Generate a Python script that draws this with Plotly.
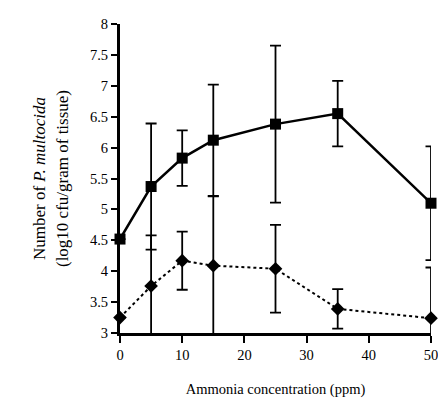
import plotly.graph_objects as go

ammonia = [0, 5, 10, 15, 25, 35, 50]
square_vals = [4.52, 5.37, 5.83, 6.12, 6.38, 6.55, 5.10]
square_err = [0.0, 1.02, 0.45, 0.90, 1.27, 0.53, 0.92]
diamond_vals = [3.25, 3.76, 4.17, 4.09, 4.04, 3.39, 3.24]
diamond_err = [0.0, 0.82, 0.47, 1.12, 0.71, 0.32, 0.82]
x_ticks = [0, 10, 20, 30, 40, 50]
y_ticks = [3, 3.5, 4, 4.5, 5, 5.5, 6, 6.5, 7, 7.5, 8]

FONT = "Liberation Serif, Times New Roman, serif"
fig = go.Figure()

# error bars (clipped to plot area)
for vals, err in [(square_vals, square_err), (diamond_vals, diamond_err)]:
    fig.add_trace(go.Scatter(
        x=ammonia, y=vals, mode="markers",
        marker=dict(size=1, color="rgba(0,0,0,0)"),
        error_y=dict(type="data", array=err, visible=True, color="black",
                     thickness=1.8, width=5.5),
        cliponaxis=True, showlegend=False, hoverinfo="skip"))

fig.add_trace(go.Scatter(
    x=ammonia, y=diamond_vals, mode="lines+markers",
    line=dict(color="black", width=2, dash="dot"),
    marker=dict(symbol="diamond", size=10.5, color="black"),
    cliponaxis=False, showlegend=False))
fig.add_trace(go.Scatter(
    x=ammonia, y=square_vals, mode="lines+markers",
    line=dict(color="black", width=2.5),
    marker=dict(symbol="square", size=11, color="black"),
    cliponaxis=False, showlegend=False))

# page body has an 8px margin; compensate so the plot area lands at x 120-437, y 16-333
fig.update_layout(
    width=438, height=396,
    margin=dict(l=112, r=9, t=8, b=71),
    paper_bgcolor="white", plot_bgcolor="white",
    font=dict(family=FONT, size=14.5, color="black"),
    xaxis=dict(range=[0, 50], tickvals=x_ticks, showline=True, linewidth=3,
               linecolor="black", ticks="outside", ticklen=7, tickwidth=1.5,
               tickcolor="black", showgrid=False, zeroline=False,
               tickfont=dict(family=FONT, size=14.5),
               title=dict(text="Ammonia concentration (ppm)", standoff=22,
                          font=dict(family=FONT, size=14.5))),
    yaxis=dict(range=[3, 8], tickvals=y_ticks, showline=True, linewidth=3,
               linecolor="black", ticks="outside", ticklen=6, tickwidth=1.5,
               tickcolor="black", showgrid=False, zeroline=False,
               tickfont=dict(family=FONT, size=14.5),
               title=dict(text="Number of <i>P. multocida</i><br>(log10 cfu/gram of tissue)",
                          standoff=18, font=dict(family=FONT, size=17))),
)

fig.write_html("out.html")
